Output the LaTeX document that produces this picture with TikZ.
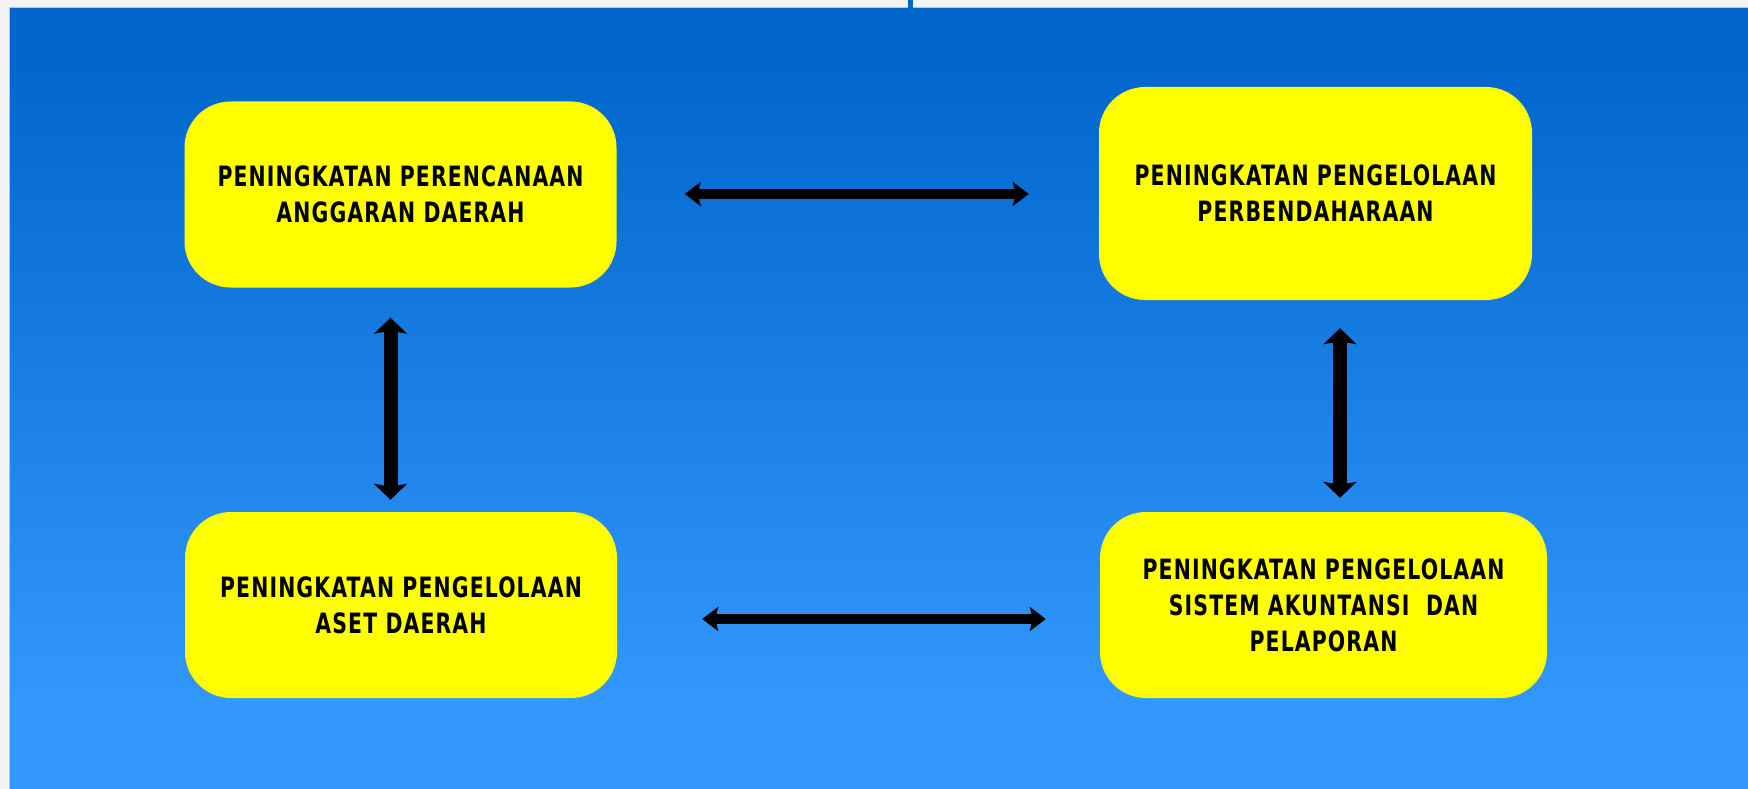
\documentclass[tikz,border=0pt]{standalone}
\usepackage{fontspec}
\newfontfamily\boxfont{DejaVu Sans}[FakeStretch=0.73,LetterSpace=4]
\usetikzlibrary{arrows.meta}
\definecolor{pagegray}{RGB}{244,244,244}
\definecolor{bgtop}{RGB}{0,102,204}
\definecolor{bgbot}{RGB}{51,153,255}
\definecolor{edgeline}{RGB}{170,200,235}
\definecolor{boxyellow}{RGB}{255,255,0}
\tikzset{
  box/.style={draw=none, fill=boxyellow, rounded corners=46pt, align=center,
    font=\boxfont\bfseries\fontsize{28}{36}\selectfont, text=black, inner sep=0pt},
  harrow/.style={line width=10pt, {Stealth[length=16pt,width=24pt,inset=3pt]}-{Stealth[length=16pt,width=24pt,inset=3pt]}},
  varrow/.style={line width=14pt, {Stealth[length=16pt,width=33pt,inset=3pt]}-{Stealth[length=16pt,width=33pt,inset=3pt]}}
}
\begin{document}
\begin{tikzpicture}[x=1pt,y=-1pt]
\useasboundingbox (0,0) rectangle (1748,789);
% page and background
\fill[pagegray] (0,0) rectangle (1748,789);
\fill[bgtop] (9,8) rectangle (1748,55);
\shade[top color=bgtop, bottom color=bgbot] (9,55) rectangle (1748,720);
\fill[bgbot] (9,720) rectangle (1748,789);
\draw[edgeline, line width=1pt] (9,789) -- (9,7.5) -- (1748,7.5);
\fill[bgtop] (908,0) rectangle (913,8);
% boxes
\node[box, minimum width=432pt, minimum height=186pt] (b1) at (400.5,194.5) {PENINGKATAN PERENCANAAN\\ANGGARAN DAERAH};
\node[box, minimum width=433pt, minimum height=213pt] (b2) at (1315.5,193.5) {PENINGKATAN PENGELOLAAN\\PERBENDAHARAAN};
\node[box, minimum width=432pt, minimum height=186pt] (b3) at (401,605) {PENINGKATAN PENGELOLAAN\\ASET DAERAH};
\node[box, minimum width=447pt, minimum height=186pt] (b4) at (1323.5,605) {PENINGKATAN PENGELOLAAN\\SISTEM AKUNTANSI\ \ DAN\\PELAPORAN};
% connectors
\draw[harrow, shorten <=68pt, shorten >=70pt] ([yshift=0.5pt]b1.east) -- ([yshift=0.5pt]b1.east -| b2.west);
\draw[harrow, shorten <=85pt, shorten >=54pt] ([yshift=-14pt]b3.east) -- ([yshift=-14pt]b3.east -| b4.west);
\draw[varrow, shorten <=30pt, shorten >=12pt] ([xshift=-10pt]b1.south) -- ([xshift=-10pt]b1.south |- b3.north);
\draw[varrow, shorten <=28pt, shorten >=14pt] ([xshift=24.5pt]b2.south) -- ([xshift=24.5pt]b2.south |- b4.north);
\end{tikzpicture}
\end{document}
